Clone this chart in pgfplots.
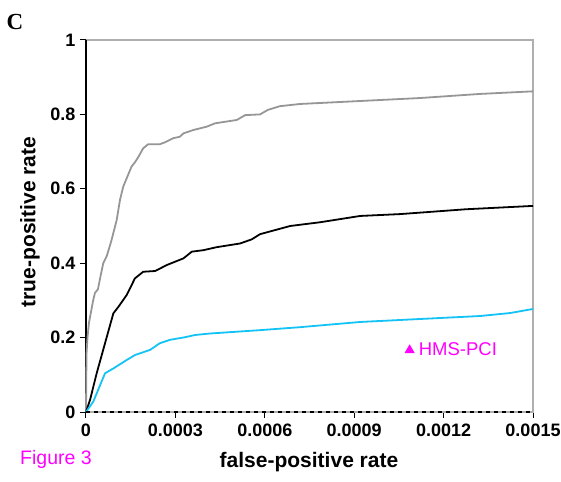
\documentclass[border=0pt]{standalone}
\usepackage{pgfplots}
\pgfplotsset{compat=1.18}
\usepackage{fontspec}
\setmainfont{Liberation Sans}
\newfontfamily\serifC{Liberation Serif}
\definecolor{rocgray}{RGB}{150,150,150}
\definecolor{roccyan}{RGB}{20,195,245}
\definecolor{framegray}{RGB}{175,175,175}
\definecolor{hmspink}{RGB}{255,0,255}

\begin{document}
\begin{tikzpicture}[x=1pt,y=1pt]
\useasboundingbox (-86,-69) rectangle (475,412);
\begin{axis}[
    at={(0,0)}, anchor=south west,
    scale only axis,
    width=447pt, height=372pt,
    xmin=0, xmax=0.0015, ymin=0, ymax=1,
    xtick={0,0.0003,0.0006,0.0009,0.0012,0.0015},
    xticklabels={0,0.0003,0.0006,0.0009,0.0012,0.0015},
    ytick={0,0.2,0.4,0.6,0.8,1},
    yticklabels={0,0.2,0.4,0.6,0.8,1},
    scaled x ticks=false,
    tick pos=left,
    tick align=outside,
    major tick length=6pt,
    every tick/.style={black, line width=1pt},
    axis line style={draw=none},
    ticklabel style={font=\bfseries\fontsize{18}{18}\selectfont},
    xticklabel style={yshift=-2pt},
    yticklabel style={xshift=-1pt},
    /pgf/number format/assume math mode=true,
    clip=false,
]
% frame: gray top/right, black left, gray bottom
\draw[framegray, line width=1.2pt] (rel axis cs:0,1) -- (rel axis cs:1,1) -- (rel axis cs:1,0) -- (rel axis cs:0,0);
\draw[black, line width=1.3pt] (rel axis cs:0,0) -- (rel axis cs:0,1);

\addplot[rocgray, line width=1.8pt] coordinates {
(0,0) (0.000001,0.10) (0.000002,0.16) (0.000005,0.20) (0.000010,0.24)
(0.000017,0.27) (0.000024,0.30) (0.000030,0.32) (0.000040,0.33)
(0.000050,0.37) (0.000058,0.40) (0.000070,0.42) (0.000085,0.46)
(0.000103,0.516) (0.000114,0.57) (0.000125,0.606) (0.000140,0.635)
(0.000153,0.66) (0.000165,0.672) (0.000176,0.686) (0.000192,0.709)
(0.000209,0.720) (0.000248,0.720) (0.000265,0.725) (0.000293,0.736)
(0.000315,0.740) (0.000327,0.749) (0.000360,0.758) (0.000405,0.767)
(0.000433,0.776) (0.000506,0.785) (0.000534,0.798) (0.000584,0.800)
(0.000610,0.812) (0.000650,0.822) (0.000718,0.828) (0.000920,0.836)
(0.001121,0.844) (0.001322,0.855) (0.0015,0.862)
};
\addplot[black, line width=1.8pt] coordinates {
(0,0) (0.0000134,0.032) (0.0000358,0.104) (0.0000917,0.265)
(0.000109,0.283) (0.000137,0.315) (0.000164,0.359) (0.000192,0.377)
(0.000232,0.379) (0.000271,0.395) (0.000299,0.404) (0.000327,0.413)
(0.000355,0.431) (0.000394,0.435) (0.000438,0.443) (0.000517,0.453)
(0.000556,0.464) (0.000584,0.478) (0.000685,0.500) (0.000785,0.510)
(0.000920,0.527) (0.001054,0.532) (0.001275,0.545) (0.0015,0.554)
};
\addplot[roccyan, line width=1.8pt] coordinates {
(0,0) (0.0000245,0.028) (0.0000638,0.104) (0.0000917,0.117)
(0.000137,0.140) (0.000164,0.153) (0.000215,0.167) (0.000248,0.185)
(0.000282,0.194) (0.000332,0.201) (0.000366,0.207) (0.000416,0.211)
(0.000584,0.220) (0.000718,0.228) (0.000920,0.242) (0.001121,0.250)
(0.001322,0.258) (0.001423,0.266) (0.0015,0.277)
};
\addplot[black, line width=2pt, dash pattern=on 4pt off 4pt] coordinates {
(0,0) (0.0015,0)
};
\addplot[only marks, hmspink, mark=triangle*, mark size=5.5pt] coordinates {
(0.001086,0.166)
} node[right, xshift=9pt, yshift=1pt, font=\fontsize{18.5}{18.5}\selectfont, text=hmspink, inner sep=0pt] {HMS-PCI};
\end{axis}
\node[font=\bfseries\fontsize{21}{21}\selectfont] at (223,-50) {false-positive rate};
\node[font=\bfseries\fontsize{21}{21}\selectfont, rotate=90] at (-56,190) {true-positive rate};
\node[font=\fontsize{19.5}{19.5}\selectfont, text=hmspink] at (-30,-47) {Figure 3};
\node[font=\serifC\bfseries\fontsize{23}{23}\selectfont] at (-71,390) {C};
\end{tikzpicture}
\end{document}
